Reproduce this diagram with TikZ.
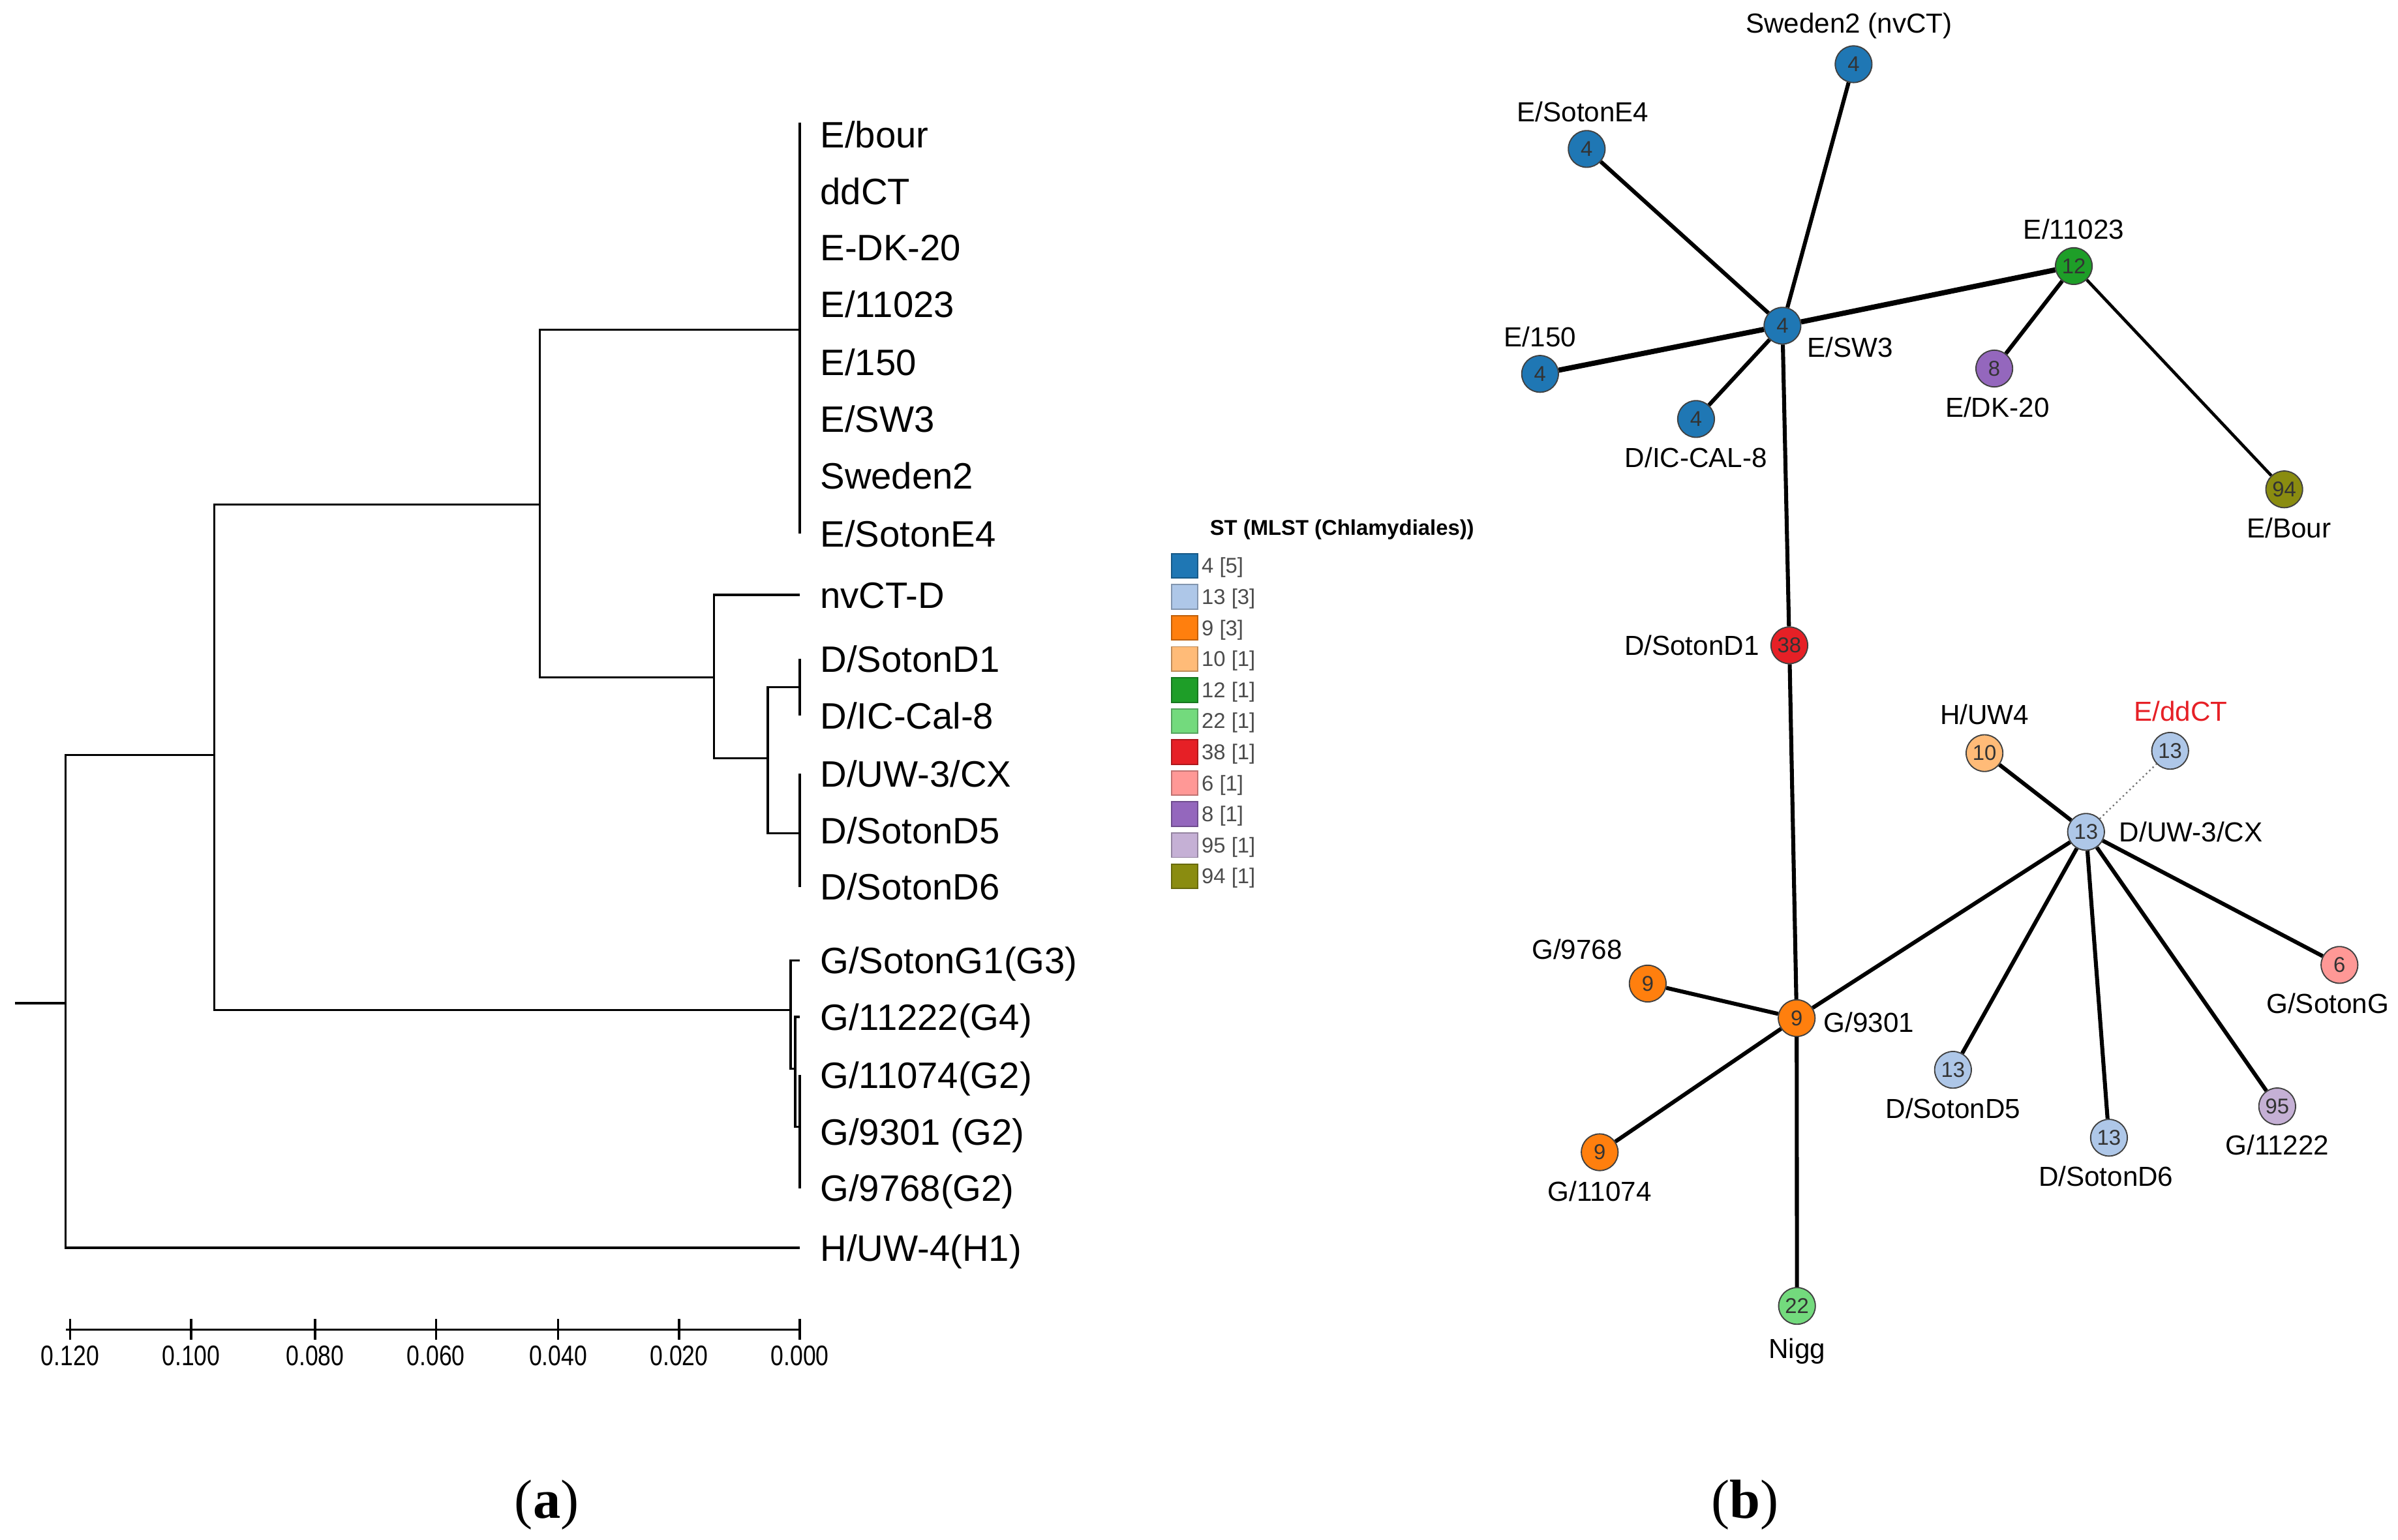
\documentclass[tikz,border=0pt]{standalone}
\usepackage{fontspec}
\setmainfont{Liberation Sans}
\newfontfamily\capfont{Liberation Serif}
\usepackage{graphicx}
\usetikzlibrary{positioning}

\definecolor{st4}{RGB}{31,119,180}
\definecolor{st13}{RGB}{174,199,232}
\definecolor{st9}{RGB}{255,127,14}
\definecolor{st10}{RGB}{255,187,120}
\definecolor{st12}{RGB}{30,158,40}
\definecolor{st22}{RGB}{115,218,125}
\definecolor{st38}{RGB}{230,32,38}
\definecolor{st6}{RGB}{255,152,150}
\definecolor{st8}{RGB}{148,103,189}
\definecolor{st95}{RGB}{197,176,213}
\definecolor{st94}{RGB}{138,140,16}

\begin{document}
\begin{tikzpicture}[x=1pt, y=-1pt, thick]
    % Styles
    \tikzstyle{leaf} = [anchor=west, inner sep=0pt, text height=17.2pt, text depth=0pt, font=\fontsize{24}{28}\selectfont]
    \tikzstyle{branch} = [line width=1.4pt]
    \tikzstyle{tick} = [anchor=base, inner sep=0pt, font=\fontsize{18.5}{20}\selectfont]
    \tikzstyle{stnode} = [circle, draw=black!75, line width=0.8pt, minimum size=24pt, inner sep=0pt, font=\fontsize{14}{15}\selectfont, text=black!80]
    \tikzstyle{lab} = [font=\fontsize{18}{20}\selectfont, text height=13pt, text depth=4pt, inner sep=1pt]
    \tikzstyle{la} = [lab]
    \tikzstyle{lb} = [lab, yshift=-5pt]
    \tikzstyle{lr} = [lab, xshift=6pt, yshift=-2pt]
    \tikzstyle{ll} = [lab, xshift=-6pt, yshift=-2pt]
    \tikzstyle{link} = [line width=2.6pt]
    \tikzstyle{legbox} = [rectangle, minimum width=17pt, minimum height=16pt, inner sep=0pt, line width=0.8pt]
    \tikzstyle{legtext} = [font=\fontsize{14}{15}\selectfont, text=black!70, inner sep=1pt, yshift=-1.3pt]

    \useasboundingbox (0,0) rectangle (1568,1007);

    % (a) tree leaves
    \node[leaf] (a-bour) at (536,88) {E/bour};
    \node[leaf] (a-ddct) at (536,125) {ddCT};
    \node[leaf] (a-edk) at (536,162) {E-DK-20};
    \node[leaf] (a-e11023) at (536,199) {E/11023};
    \node[leaf] (a-e150) at (536,237) {E/150};
    \node[leaf] (a-esw3) at (536,274) {E/SW3};
    \node[leaf] (a-swe) at (536,311) {Sweden2};
    \node[leaf] (a-e4) at (536,349) {E/SotonE4};
    \node[leaf] (a-nvct) at (536,389) {nvCT-D};
    \node[leaf] (a-sd1) at (536,431) {D/SotonD1};
    \node[leaf] (a-ical) at (536,468) {D/IC-Cal-8};
    \node[leaf] (a-uw3) at (536,506) {D/UW-3/CX};
    \node[leaf] (a-sd5) at (536,543) {D/SotonD5};
    \node[leaf] (a-sd6) at (536,580) {D/SotonD6};
    \node[leaf] (a-sg1) at (536,628) {G/SotonG1(G3)};
    \node[leaf] (a-g11222) at (536,665) {G/11222(G4)};
    \node[leaf] (a-g11074) at (536,703) {G/11074(G2)};
    \node[leaf] (a-g9301) at (536,740) {G/9301 (G2)};
    \node[leaf] (a-g9768) at (536,777) {G/9768(G2)};
    \node[leaf] (a-huw) at (536,816) {H/UW-4(H1)};

    % (a) tree junctions
    \coordinate (stub) at (10,656);
    \coordinate (r) at (43,656);
    \coordinate (nA) at (140,493.6);
    \coordinate (nB) at (353,330);
    \coordinate (nE) at (523,215.5);
    \coordinate (nD) at (467,443);
    \coordinate (nD1) at (502,496);
    \coordinate (nD2) at (523,449.5);
    \coordinate (nD3) at (523,545);
    \coordinate (nG) at (517,660.5);
    \coordinate (nG1) at (520,699);
    \coordinate (nG2) at (523,737);

    % (a) branches
    \draw[branch] (stub) -- (r);
    \draw[branch] (r) |- (nA);
    \draw[branch, shorten >=13pt] (r) |- (a-huw.west);
    \draw[branch] (nA) |- (nB);
    \draw[branch] (nA) |- (nG);
    \draw[branch] (nB) |- (nE);
    \draw[branch] (nB) |- (nD);
    \draw[branch] (nE |- a-bour.west) ++(0,-8) -- (nE |- a-e4.west);
    \draw[branch, shorten >=13pt] (nD) |- (a-nvct.west);
    \draw[branch] (nD) |- (nD1);
    \draw[branch] (nD1) |- (nD2);
    \draw[branch] (nD1) |- (nD3);
    \draw[branch] (nD2 |- a-sd1.west) -- (nD2 |- a-ical.west);
    \draw[branch] (nD3 |- a-uw3.west) -- (nD3 |- a-sd6.west);
    \draw[branch, shorten >=13pt] (nG) |- (a-sg1.west);
    \draw[branch] (nG) |- (nG1);
    \draw[branch, shorten >=13pt] (nG1) |- (a-g11222.west);
    \draw[branch] (nG1) |- (nG2);
    \draw[branch] (nG2 |- a-g11074.west) -- (nG2 |- a-g9768.west);

    % (a) scale
    \draw[branch] (43,869.6) -- (523,869.6);
    \foreach \x/\v in {45.8/0.120, 125/0.100, 206/0.080, 285/0.060, 365/0.040, 444/0.020, 523/0.000} {
        \draw[branch] (\x,862.5) -- (\x,876.3);
        \node[tick] at (\x,893) {\scalebox{0.82}[1]{\v}};
    }

    % Legend
    \node[font=\bfseries\fontsize{14}{16}\selectfont, yshift=-1.4pt] (legtitle) at (877.5,345) {ST (MLST (Chlamydiales))};
    \foreach \i/\c/\t in {0/st4/{4 [5]}, 1/st13/{13 [3]}, 2/st9/{9 [3]}, 3/st10/{10 [1]}, 4/st12/{12 [1]}, 5/st22/{22 [1]}, 6/st38/{38 [1]}, 7/st6/{6 [1]}, 8/st8/{8 [1]}, 9/st95/{95 [1]}, 10/st94/{94 [1]}} {
        \node[legbox, fill=\c, draw=\c!75!black] (leg\i) at (774.5,{370+20.3*\i}) {};
        \node[legtext, right=1pt of leg\i] {\t};
    }

    % (b) network nodes
    \node[stnode, fill=st4, label={[la, xshift=-3pt, yshift=2.5pt]above:Sweden2 (nvCT)}] (b-swe) at (1212,42) {4};
    \node[stnode, fill=st4, label={[la, xshift=-2.5pt]above:E/SotonE4}] (b-e4) at (1037.5,97.4) {4};
    \node[stnode, fill=st4, label={[lab, xshift=6pt, yshift=2.5pt]-45:E/SW3}] (b-sw3) at (1165.5,213) {4};
    \node[stnode, fill=st12, label={[la]above:E/11023}] (b-e11023) at (1356,174) {12};
    \node[stnode, fill=st4, label={[la]above:E/150}] (b-e150) at (1007,244.5) {4};
    \node[stnode, fill=st4, label={[lb]below:D/IC-CAL-8}] (b-ical) at (1109,274) {4};
    \node[stnode, fill=st8, label={[lb, xshift=2pt]below:E/DK-20}] (b-dk20) at (1304,241) {8};
    \node[stnode, fill=st94, label={[lb, xshift=3pt]below:E/Bour}] (b-bour) at (1493.6,320) {94};
    \node[stnode, fill=st38, label={[ll]left:D/SotonD1}] (b-sd1) at (1170,422) {38};
    \node[stnode, fill=st10, label={[la, yshift=1pt]above:H/UW4}] (b-huw4) at (1297.6,492.5) {10};
    \node[stnode, fill=st13, label={[la, xshift=7pt, yshift=1.5pt, text=st38]above:E/ddCT}] (b-ddct) at (1419,491) {13};
    \node[stnode, fill=st13, label={[lr, xshift=2pt]right:D/UW-3/CX}] (b-uw3) at (1364,544) {13};
    \node[stnode, fill=st6, label={[lb, xshift=-7.7pt]below:G/SotonG}] (b-sg) at (1529.7,631) {6};
    \node[stnode, fill=st9, label={[lab, xshift=-6.5pt, yshift=1.6pt]135:G/9768}] (b-g9768) at (1077.4,643.2) {9};
    \node[stnode, fill=st9, label={[lr, xshift=-2pt, yshift=-2.7pt]right:G/9301}] (b-g9301) at (1174.8,665.8) {9};
    \node[stnode, fill=st9, label={[lb]below:G/11074}] (b-g11074) at (1046,753.5) {9};
    \node[stnode, fill=st13, label={[lb]below:D/SotonD5}] (b-sd5) at (1277,699.6) {13};
    \node[stnode, fill=st13, label={[lb, xshift=-2pt]below:D/SotonD6}] (b-sd6) at (1379,744) {13};
    \node[stnode, fill=st95, label={[lb]below:G/11222}] (b-g11222) at (1489,723.5) {95};
    \node[stnode, fill=st22, label={[lb, yshift=-2.5pt]below:Nigg}] (b-nigg) at (1175,854) {22};

    % (b) network links
    \draw[link] (b-sw3) -- (b-swe);
    \draw[link] (b-sw3) -- (b-e4);
    \draw[link, line width=3.4pt] (b-sw3) -- (b-e150);
    \draw[link] (b-sw3) -- (b-ical);
    \draw[link, line width=3.4pt] (b-sw3) -- (b-e11023);
    \draw[link] (b-sw3) -- (b-sd1);
    \draw[link] (b-e11023) -- (b-dk20);
    \draw[link, line width=2pt] (b-e11023) -- (b-bour);
    \draw[link] (b-sd1) -- (b-g9301);
    \draw[link] (b-g9301) -- (b-g9768);
    \draw[link] (b-g9301) -- (b-g11074);
    \draw[link] (b-g9301) -- (b-nigg);
    \draw[link] (b-g9301) -- (b-uw3);
    \draw[link] (b-uw3) -- (b-huw4);
    \draw[black!55, dotted, line width=1pt] (b-uw3) -- (b-ddct);
    \draw[link] (b-uw3) -- (b-sd5);
    \draw[link] (b-uw3) -- (b-sd6);
    \draw[link] (b-uw3) -- (b-g11222);
    \draw[link] (b-uw3) -- (b-sg);

    % Panel captions
    \node[font=\capfont\fontsize{36}{40}\selectfont, anchor=base] (capa) at (357.5,992.6) {(\textbf{a})};
    \node[font=\capfont\fontsize{36}{40}\selectfont, anchor=base] (capb) at (1141,992.6) {(\textbf{b})};
\end{tikzpicture}
\end{document}
